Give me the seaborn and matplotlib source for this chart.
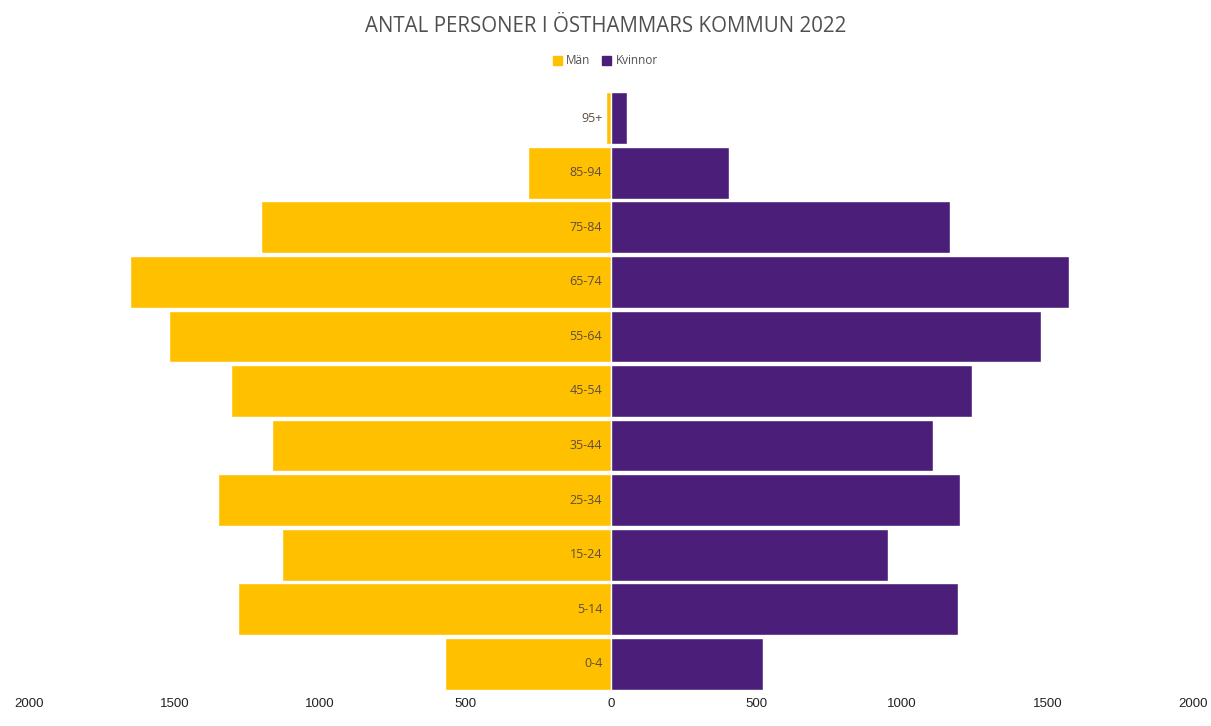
import matplotlib.pyplot as plt
import pandas as pd
import numpy as np
import seaborn as sns

# age groups top to bottom
groups = ['95+', '85-94', '75-84', '65-74', '55-64', '45-54', '35-44', '25-34', '15-24', '5-14', '0-4']
man = [17, 285, 1203, 1653, 1519, 1306, 1165, 1351, 1131, 1282, 570]
kvinnor = [55, 405, 1165, 1574, 1478, 1241, 1107, 1199, 952, 1192, 522]
ticks = [-2000, -1500, -1000, -500, 0, 500, 1000, 1500, 2000]

df = pd.DataFrame({
    'grupp': groups * 2,
    'antal': [-v for v in man] + kvinnor,
    'kon': ['Män'] * len(groups) + ['Kvinnor'] * len(groups),
})

sns.set_style('white')
plt.rcParams['font.family'] = ['Liberation Sans', 'DejaVu Sans']

fig = plt.figure(figsize=(12.11, 7.26), dpi=100)
ax = fig.add_axes([29 / 1211, 1 - 691 / 726, (1193 - 29) / 1211, (691 - 91) / 726])

pal = {'Män': '#FFC000', 'Kvinnor': '#4B1E7A'}
sns.barplot(data=df, y='grupp', x='antal', hue='kon', order=groups, dodge=False,
            palette=pal, saturation=1, width=0.95, orient='h', ax=ax, legend=False)

ax.set_xlim(-2000, 2000)
ax.set_ylim(len(groups) - 0.5, -0.5)
ax.set_xticks(ticks)
ax.set_xticklabels([str(abs(t)) for t in ticks], fontsize=9.5, color='#222222')
ax.tick_params(axis='x', length=0, pad=5)
ax.set_yticks([])
ax.set_xlabel('')
ax.set_ylabel('')
sns.despine(ax=ax, left=True, bottom=True)

# labels inside the bars, next to the centre
for i, g in enumerate(groups):
    ax.text(-30, i, g, ha='right', va='center', fontsize=9, color='#5e4d3e',
            family=['Open Sans', 'DejaVu Sans'])

fig.text(0.5, 1 - 26 / 726, 'ANTAL PERSONER I ÖSTHAMMARS KOMMUN 2022', ha='center', va='center',
         fontsize=14.8, color='#505050', family=['Open Sans', 'DejaVu Sans'])

handles = [plt.Rectangle((0, 0), 1, 1, color=pal['Män']),
           plt.Rectangle((0, 0), 1, 1, color=pal['Kvinnor'])]
fig.legend(handles, ['Män', 'Kvinnor'], loc='center', bbox_to_anchor=(0.5, 1 - 61 / 726), ncol=2,
           frameon=False, handlelength=0.7, handleheight=0.7, handletextpad=0.4,
           columnspacing=1.0, labelcolor='#505050', prop={'family': 'Open Sans', 'size': 8.5})

fig.savefig('out.png', dpi=100)
